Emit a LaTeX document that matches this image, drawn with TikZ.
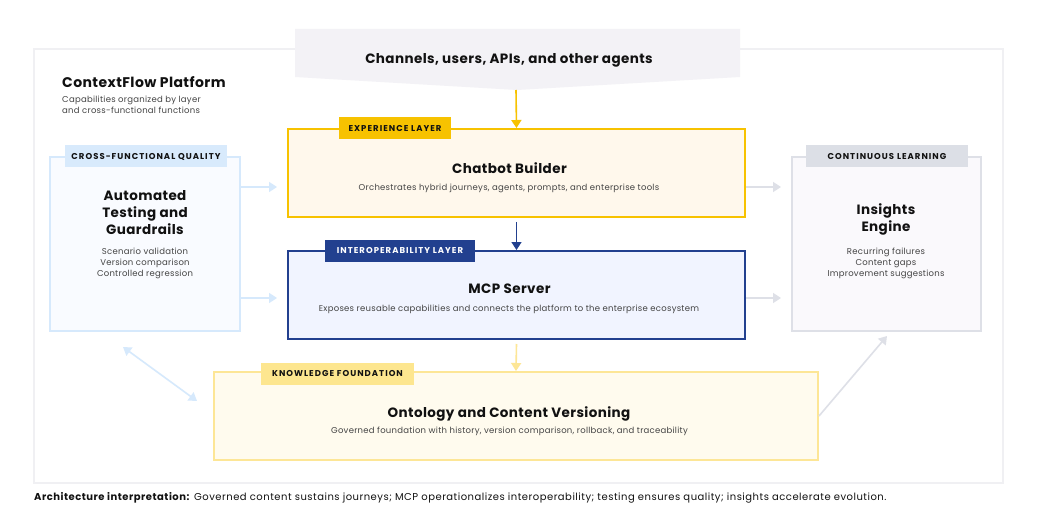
\documentclass[tikz,border=0pt]{standalone}
\usepackage{fontspec}
\setmainfont{Poppins}
\usetikzlibrary{arrows.meta,positioning}
\definecolor{gold}{HTML}{F7C200}
\definecolor{expfill}{HTML}{FFF8EC}
\definecolor{navy}{HTML}{22408F}
\definecolor{mcpfill}{HTML}{F1F4FF}
\definecolor{lbline}{HTML}{D6E9FC}
\definecolor{lbtag}{HTML}{D8EAFC}
\definecolor{lbfill}{HTML}{F9FBFF}
\definecolor{grline}{HTML}{DEE0E7}
\definecolor{grtag}{HTML}{DCDFE6}
\definecolor{grfill}{HTML}{FAF9FC}
\definecolor{ylline}{HTML}{FDE696}
\definecolor{yltag}{HTML}{FDE68F}
\definecolor{ylfill}{HTML}{FFFBEE}
\definecolor{banner}{HTML}{F3F2F6}
\definecolor{frame}{HTML}{F0F0F3}
\definecolor{ink}{HTML}{111111}
\definecolor{subink}{HTML}{444444}
\newcommand{\ttlfont}{\bfseries\fontsize{13.5}{17}\selectfont\addfontfeatures{LetterSpace=3}}
\newcommand{\subfont}{\fontsize{8.5}{11}\selectfont\addfontfeatures{LetterSpace=3}}
\newcommand{\tagfont}{\bfseries\fontsize{8.5}{10}\selectfont\addfontfeatures{LetterSpace=12}}
\tikzset{
  box/.style={draw, line width=2pt, inner sep=0pt},
  tagbox/.style={inner sep=0pt, minimum height=22pt, font=\tagfont, text=ink},
  ttl/.style={font=\ttlfont, text=ink, align=center, inner sep=0pt},
  sub/.style={font=\subfont, text=subink, align=center, inner sep=0pt},
  arr/.style={line width=1.6pt, -{Triangle[length=8pt,width=10pt]}},
  darr/.style={line width=1.6pt, {Triangle[length=8pt,width=10pt]}-{Triangle[length=8pt,width=10pt]}},
}
\begin{document}
\begin{tikzpicture}[x=1pt,y=-1pt]
\useasboundingbox[fill=white] (0,0) rectangle (1037,532);
% outer frame
\node[draw=frame, line width=1.5pt, fill=white, minimum width=969pt, minimum height=434pt, inner sep=0pt] (frame) at (518.5,266) {};
% banner
\fill[banner] (295,29) -- (740,29) -- (740,77) -- (517,90) -- (295,77) -- cycle;
\node[ttl] (bannertxt) at (509,60) {Channels, users, APIs, and other agents};
\coordinate (bannertip) at (516,90);
% platform title
\node[anchor=west, font=\bfseries\fontsize{14}{16}\selectfont\addfontfeatures{LetterSpace=3}, text=ink, inner sep=0pt] (ptitle) at (62,82) {ContextFlow Platform};
\node[anchor=north west, align=left, font=\subfont, text=subink, inner sep=0pt] (psub) at (62,96) {Capabilities organized by layer\\and cross-functional functions};

% Chatbot Builder
\node[box, draw=gold, fill=expfill, minimum width=457pt, minimum height=88pt] (cb) at (516.5,173) {};
\node[tagbox, fill=gold, minimum width=112pt] (cbtag) at (395,128.5) {EXPERIENCE LAYER};
\node[ttl] (cbt) at (509.5,168) {Chatbot Builder};
\node[sub] (cbs) at (509,188) {Orchestrates hybrid journeys, agents, prompts, and enterprise tools};

% MCP Server
\node[box, draw=navy, fill=mcpfill, minimum width=457pt, minimum height=88pt] (mcp) at (516.5,295) {};
\node[tagbox, fill=navy, text=white, minimum width=150pt] (mcptag) at (400,250.5) {INTEROPERABILITY LAYER};
\node[ttl] (mcpt) at (509.5,289) {MCP Server};
\node[sub] (mcps) at (509,309) {Exposes reusable capabilities and connects the platform to the enterprise ecosystem};

% Left quality box
\node[box, draw=lbline, fill=lbfill, minimum width=190pt, minimum height=174pt] (lq) at (145,244) {};
\node[tagbox, fill=lbtag, minimum width=162pt] (lqtag) at (146,156.5) {CROSS-FUNCTIONAL QUALITY};
\node[ttl] (lqt) at (145,213) {Automated\\Testing and\\Guardrails};
\node[sub] (lqs) at (145,263) {Scenario validation\\Version comparison\\Controlled regression};

% Right insights box
\node[box, draw=grline, fill=grfill, minimum width=189pt, minimum height=174pt] (ie) at (886.5,244) {};
\node[tagbox, fill=grtag, minimum width=162pt] (ietag) at (887,156.5) {CONTINUOUS LEARNING};
\node[ttl] (iet) at (886,219.5) {Insights\\Engine};
\node[sub] (ies) at (886,263) {Recurring failures\\Content gaps\\Improvement suggestions};

% Knowledge foundation
\node[box, draw=ylline, fill=ylfill, minimum width=604pt, minimum height=88pt] (kf) at (516,416) {};
\node[tagbox, fill=yltag, minimum width=153pt] (kftag) at (337.5,373.5) {KNOWLEDGE FOUNDATION};
\node[ttl] (kft) at (509,414) {Ontology and Content Versioning};
\node[sub] (kfs) at (509.5,431) {Governed foundation with history, version comparison, rollback, and traceability};

% vertical arrows
\draw[arr, gold] (bannertip) -- (cb.north);
\draw[arr, navy] ([yshift=-4pt]cb.south) -- (mcp.north);
\draw[arr, ylline] ([yshift=-4pt]mcp.south) -- (kf.north);
% horizontal arrows
\coordinate (hy1) at (0,187);
\coordinate (hy2) at (0,298);
\draw[arr, lbline] (lq.east |- hy1) -- ([xshift=-10pt]cb.west |- hy1);
\draw[arr, lbline] (lq.east |- hy2) -- ([xshift=-10pt]mcp.west |- hy2);
\draw[arr, grline] (cb.east |- hy1) -- ([xshift=-10pt]ie.west |- hy1);
\draw[arr, grline] (mcp.east |- hy2) -- ([xshift=-10pt]ie.west |- hy2);
% diagonals
\coordinate (d1) at (123,347);
\coordinate (d2) at (197,401);
\draw[darr, lbline] (d1) -- (d2);
\coordinate (g1) at (887,336);
\draw[arr, grline] (kf.east) -- (g1);

% caption
\node[anchor=west, inner sep=0pt, font=\fontsize{10}{12}\selectfont\addfontfeatures{LetterSpace=5}, text=ink] (cap) at (34,498) {\textbf{Architecture interpretation:} Governed content sustains journeys; MCP operationalizes interoperability; testing ensures quality; insights accelerate evolution.};
\end{tikzpicture}
\end{document}
